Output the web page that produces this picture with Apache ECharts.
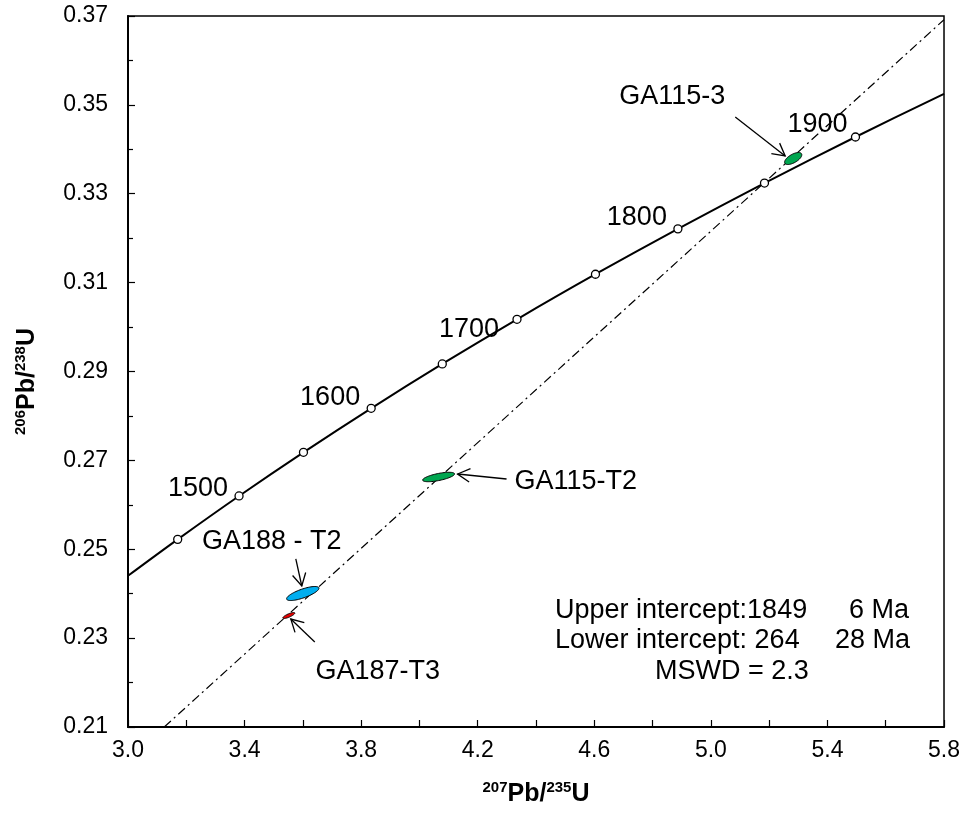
<!DOCTYPE html>
<html>
<head>
<meta charset="utf-8">
<script src="https://cdn.jsdelivr.net/npm/echarts@6/dist/echarts.min.js"></script>
<style>
  html, body { margin: 0; padding: 0; background: #fff; }
  #chart { width: 963px; height: 821px; }
</style>
</head>
<body>
<div id="chart"></div>
<script>
// Concordia reference ages (Ma) and their 207Pb/235U, 206Pb/238U ratios
const concordiaAges = [1450, 1500, 1550, 1600, 1650, 1700, 1750, 1800, 1850, 1900];
const concordiaX = [3.1705, 3.3810, 3.6021, 3.8344, 4.0784, 4.3348, 4.6040, 4.8869, 5.1840, 5.4962];
const concordiaY = [0.25223, 0.26199, 0.27181, 0.28172, 0.29170, 0.30175, 0.31189, 0.32210, 0.33240, 0.34277];
const labelledAges = [1500, 1600, 1700, 1800, 1900];
// where the concordia meets the left and right plot edges
const concordiaEdgeX = [3.0, 5.8];
const concordiaEdgeY = [0.24403, 0.35248];

// discordia chord (lower intercept 264 Ma, upper 1849 Ma), clipped to the plot
const discordiaX = [3.1243, 5.8];
const discordiaY = [0.21, 0.36917];

// analyses: centre, half-widths of the error ellipse and error correlation
const sampleNames = ['GA115-3', 'GA115-T2', 'GA188 - T2', 'GA187-T3'];
const sampleX = [5.2825, 4.0658, 3.5997, 3.5518];
const sampleY = [0.33793, 0.26626, 0.24004, 0.23509];
const sampleErrX = [0.0295, 0.0548, 0.0555, 0.0206];
const sampleErrY = [0.00135, 0.00106, 0.00158, 0.000675];
const sampleRho = [0.62, 0.65, 0.75, 0.8];

// axis ticks
const xTicks = [3.0, 3.4, 3.8, 4.2, 4.6, 5.0, 5.4, 5.8];
const yTicks = [0.21, 0.23, 0.25, 0.27, 0.29, 0.31, 0.33, 0.35, 0.37];

// intercept summary
const summaryLines = [
  ['Upper intercept:1849', '6 Ma'],
  ['Lower intercept: 264', '28 Ma'],
  ['MSWD = 2.3']
];

// ---- styling / layout ----
const FONT = "'Liberation Sans', Arial, sans-serif";
const sampleColors = ['#00a650', '#00a650', '#00aeef', '#e60000'];

// age label placement in pixels relative to the marker: right edge, vertical centre
const ageLabelShift = {
  1500: [-11, -7], 1600: [-11, -11], 1700: [-18, 10], 1800: [-11, -11], 1900: [-8, -12]
};

// callout placement (data units): text anchor, arrow tail, arrow tip
const callouts = [
  { text: [4.8678, 0.35177], align: 'center', from: [5.0837, 0.34727], to: [5.2550, 0.33850] },
  { text: [4.3263, 0.26525], align: 'left',   from: [4.2989, 0.26581], to: [4.1309, 0.26693] },
  { text: [3.4935, 0.25163], align: 'center', from: [3.5758, 0.24781], to: [3.5963, 0.24173] },
  { text: [3.8568, 0.22238], align: 'center', from: [3.6409, 0.22913], to: [3.5586, 0.23430] }
];

const concordiaLine = [[concordiaEdgeX[0], concordiaEdgeY[0]]]
  .concat(concordiaX.map((x, i) => [x, concordiaY[i]]))
  .concat([[concordiaEdgeX[1], concordiaEdgeY[1]]]);

const ageLabelData = concordiaAges
  .map((age, i) => [concordiaX[i], concordiaY[i], age])
  .filter(d => labelledAges.indexOf(d[2]) >= 0);

function ellipseItem(params, api) {
  const i = api.value(2);
  const pts = [];
  const n = 72;
  const s = Math.sqrt(1 - sampleRho[i] * sampleRho[i]);
  for (let k = 0; k < n; k++) {
    const t = (k / n) * Math.PI * 2;
    const x = sampleX[i] + sampleErrX[i] * Math.cos(t);
    const y = sampleY[i] + sampleErrY[i] * (sampleRho[i] * Math.cos(t) + s * Math.sin(t));
    pts.push(api.coord([x, y]));
  }
  return {
    type: 'polygon',
    shape: { points: pts },
    style: { fill: sampleColors[i], stroke: '#000', lineWidth: 1 }
  };
}

function ageLabelItem(params, api) {
  const p = api.coord([api.value(0), api.value(1)]);
  const age = api.value(2);
  const sh = ageLabelShift[age] || [-11, -10];
  return {
    type: 'text', x: p[0] + sh[0], y: p[1] + sh[1],
    style: { text: String(age), font: '27px ' + FONT, fill: '#000', align: 'right', verticalAlign: 'middle' }
  };
}

function calloutItem(params, api) {
  const i = api.value(2);
  const c = callouts[i];
  const p0 = api.coord(c.from);
  const p1 = api.coord(c.to);
  const tp = api.coord(c.text);
  const ang = Math.atan2(p1[1] - p0[1], p1[0] - p0[0]);
  const L = 14, spread = 0.5;
  const h1 = [p1[0] - L * Math.cos(ang - spread), p1[1] - L * Math.sin(ang - spread)];
  const h2 = [p1[0] - L * Math.cos(ang + spread), p1[1] - L * Math.sin(ang + spread)];
  return {
    type: 'group',
    children: [
      { type: 'line', shape: { x1: p0[0], y1: p0[1], x2: p1[0], y2: p1[1] },
        style: { stroke: '#000', lineWidth: 1.3 } },
      { type: 'polyline', shape: { points: [h1, p1, h2] },
        style: { stroke: '#000', lineWidth: 1.3, fill: null } },
      { type: 'text', x: tp[0], y: tp[1],
        style: { text: sampleNames[i], font: '27px ' + FONT, fill: '#000',
                 align: c.align, verticalAlign: 'middle' } }
    ]
  };
}

const chart = echarts.init(document.getElementById('chart'), null, { renderer: 'canvas' });

const axisNameRich = {
  sup: { fontSize: 15, fontWeight: 'bold', fontFamily: FONT, color: '#000', verticalAlign: 'top', lineHeight: 28, padding: [0, 0, 10, 0] },
  main: { fontSize: 25, fontWeight: 'bold', fontFamily: FONT, color: '#000', lineHeight: 28 }
};

chart.setOption({
  animation: false,
  backgroundColor: '#fff',
  grid: { left: 128, right: 18, top: 16, bottom: 94, show: true, borderColor: '#000', borderWidth: 1.5, containLabel: false },
  xAxis: {
    type: 'value',
    min: xTicks[0], max: xTicks[xTicks.length - 1], interval: xTicks[1] - xTicks[0],
    name: '{sup|207}{main|Pb/}{sup|235}{main|U}',
    nameLocation: 'middle', nameGap: 53,
    nameTextStyle: { rich: axisNameRich },
    axisLine: { onZero: false, lineStyle: { color: '#000', width: 2 } },
    axisTick: { inside: true, length: 7, lineStyle: { color: '#000', width: 1.2 } },
    minorTick: { show: true, splitNumber: 2, length: 7, lineStyle: { color: '#000', width: 1.2 } },
    splitLine: { show: false },
    axisLabel: { color: '#000', fontSize: 23, fontFamily: FONT, margin: 12,
                 formatter: v => v.toFixed(1) }
  },
  yAxis: {
    type: 'value',
    min: yTicks[0], max: yTicks[yTicks.length - 1], interval: 0.02,
    name: '{sup|206}{main|Pb/}{sup|238}{main|U}',
    nameLocation: 'middle', nameGap: 87, nameRotate: 90,
    nameTextStyle: { rich: axisNameRich, padding: [0, 0, 0, -20] },
    axisLine: { onZero: false, lineStyle: { color: '#000', width: 2 } },
    axisTick: { inside: true, length: 7, lineStyle: { color: '#000', width: 1.2 } },
    minorTick: { show: true, splitNumber: 2, length: 5, lineStyle: { color: '#000', width: 1.2 } },
    splitLine: { show: false },
    axisLabel: { color: '#000', fontSize: 23, fontFamily: FONT, margin: 20,
                 formatter: v => v.toFixed(2) }
  },
  series: [
    {
      name: 'discordia', type: 'line', silent: true,
      data: discordiaX.map((x, i) => [x, discordiaY[i]]),
      showSymbol: false, symbol: 'none',
      lineStyle: { color: '#000', width: 1.2, type: [9, 4, 2, 4] },
      z: 2
    },
    {
      name: 'concordia', type: 'line', silent: true,
      data: concordiaLine, smooth: 0.3, showSymbol: false, symbol: 'none',
      lineStyle: { color: '#000', width: 2 },
      z: 3
    },
    {
      name: 'ellipses', type: 'custom', silent: true,
      data: sampleNames.map((n, i) => [sampleX[i], sampleY[i], i]),
      renderItem: ellipseItem,
      z: 4
    },
    {
      name: 'ages', type: 'scatter', silent: true,
      data: concordiaX.map((x, i) => [x, concordiaY[i]]),
      symbol: 'circle', symbolSize: 8,
      itemStyle: { color: '#fff', borderColor: '#000', borderWidth: 1.3, opacity: 1 },
      z: 5
    },
    {
      name: 'age labels', type: 'custom', silent: true,
      data: ageLabelData,
      renderItem: ageLabelItem,
      z: 6
    },
    {
      name: 'callouts', type: 'custom', silent: true,
      data: sampleNames.map((n, i) => [sampleX[i], sampleY[i], i]),
      renderItem: calloutItem,
      z: 6
    }
  ],
  graphic: [
    { type: 'text', left: 555, top: 597, style: { text: summaryLines[0][0], font: '27px ' + FONT, fill: '#000' } },
    { type: 'text', left: 849, top: 597, style: { text: summaryLines[0][1], font: '27px ' + FONT, fill: '#000' } },
    { type: 'text', left: 555, top: 627, style: { text: summaryLines[1][0], font: '27px ' + FONT, fill: '#000' } },
    { type: 'text', left: 835, top: 627, style: { text: summaryLines[1][1], font: '27px ' + FONT, fill: '#000' } },
    { type: 'text', left: 655, top: 658, style: { text: summaryLines[2][0], font: '27px ' + FONT, fill: '#000' } }
  ]
});
</script>
</body>
</html>
